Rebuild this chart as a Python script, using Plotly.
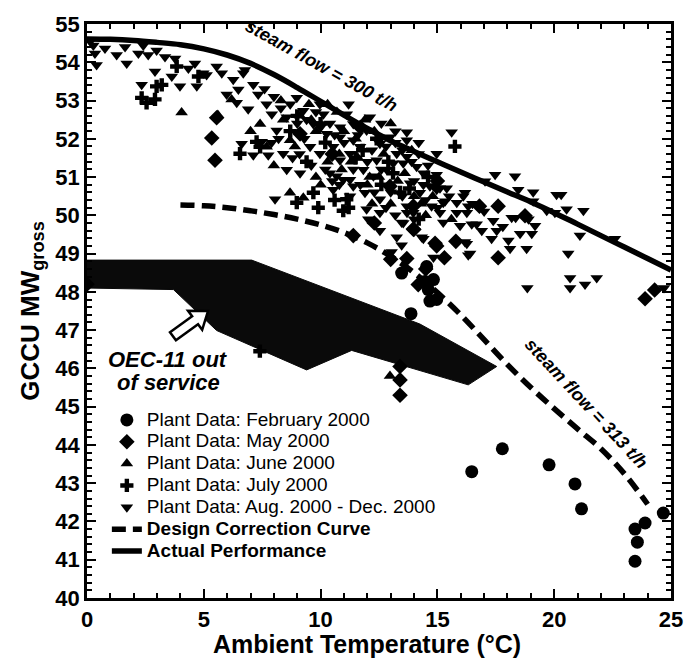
import numpy as np
import plotly.graph_objects as go

# ---------------- data ----------------
ACTUAL_X = [0, 1, 2, 3, 4, 5, 6, 7, 8, 9, 10, 11, 12, 13, 14, 15, 16, 17, 18, 19, 20, 21, 22, 23, 24, 25]
ACTUAL_Y = [54.61, 54.6, 54.57, 54.52, 54.46, 54.35, 54.19, 53.97, 53.68, 53.34, 52.98, 52.62, 52.27, 51.95, 51.67, 51.4, 51.13, 50.87, 50.61, 50.35, 50.07, 49.77, 49.47, 49.17, 48.87, 48.57]

DESIGN_X = [4, 5, 6, 7, 8, 9, 10, 11, 12, 13, 14, 15, 16, 17, 18, 19, 20, 21, 22, 23, 24]
DESIGN_Y = [50.27, 50.25, 50.2, 50.12, 50.02, 49.9, 49.75, 49.55, 49.28, 48.93, 48.5, 47.98, 47.4, 46.75, 46.1, 45.5, 44.95, 44.42, 43.9, 43.25, 42.45]

OEC_X = [0, 7.05, 14.25, 17.54, 16.32, 11.33, 9.4, 5.55, 3.7, 0, 0]
OEC_Y = [48.83, 48.83, 47.16, 46.05, 45.57, 46.47, 45.96, 46.99, 48.06, 48.1, 48.83]

FEB_X = [16.47, 17.78, 19.78, 20.89, 21.17, 23.46, 23.56, 23.46, 23.89, 24.67, 13.87, 14.47, 14.83, 14.61, 14.68, 14.97, 13.47, 14.54]
FEB_Y = [43.3, 43.9, 43.48, 42.98, 42.33, 41.8, 41.46, 40.96, 41.96, 42.22, 47.43, 48.27, 48.32, 48.06, 47.76, 47.8, 48.49, 48.66]

MAY_X = [0.0, 5.34, 5.48, 5.55, 9.12, 12.97, 13.97, 13.97, 13.69, 13.99, 14.97, 15.3, 15.79, 14.9, 17.6, 17.6, 16.8, 18.75, 13.0, 14.18, 13.4, 13.4, 13.4, 23.89, 24.3, 11.4, 12.3, 15.0, 10.5, 11.7, 14.5]
MAY_Y = [48.2, 52.02, 51.44, 52.55, 52.13, 50.76, 49.64, 50.24, 48.87, 49.63, 49.2, 48.89, 49.32, 49.27, 48.89, 50.24, 50.24, 49.99, 48.85, 48.19, 46.05, 45.7, 45.3, 47.82, 48.05, 49.47, 49.8, 50.9, 51.6, 52.3, 48.6]

JUN_X = [4.05, 6.19, 5.6, 8.69, 9.26, 12.97, 7.41, 7.69, 8.69, 9.12, 9.8, 10.3, 10.9, 11.6, 12.1, 12.7, 13.3, 14.0, 13.0, 11.5, 10.0, 9.5, 8.3, 7.0, 12.3, 14.5, 15.6, 13.9, 8.0, 10.7, 12.0,
         8.4, 9.6, 10.3, 11.0, 11.9, 12.5, 13.6, 14.3, 13.0, 10.8, 9.8, 8.9, 11.3, 12.2, 14.8]
JUN_Y = [52.69, 53.03, 52.62, 50.59, 50.46, 45.8, 52.39, 51.79, 51.96, 52.6, 52.2, 51.4, 51.2, 51.5, 51.0, 51.6, 50.9, 50.5, 50.3, 52.0, 50.8, 52.9, 53.0, 52.2, 52.2, 50.0, 49.9, 51.7, 51.3, 52.7, 50.8,
         52.5, 52.5, 52.9, 52.2, 52.5, 51.0, 51.1, 50.3, 52.4, 51.6, 51.0, 51.8, 51.4, 50.3, 50.5]

JUL_X = [2.34, 2.55, 2.91, 2.98, 3.2, 3.84, 4.77, 6.55, 7.26, 7.41, 8.98, 9.69, 11.12, 10.97, 15.75, 9.4, 10.2, 11.8, 12.6, 13.4, 14.2, 8.7, 10.6, 12.9, 14.6, 11.2, 9.9, 7.4,
         10.0, 11.5, 12.4, 13.1, 9.0, 13.8]
JUL_Y = [53.07, 52.94, 53.03, 53.37, 53.41, 53.89, 53.63, 51.61, 51.92, 51.79, 50.33, 50.59, 50.42, 50.12, 51.8, 51.4, 51.9, 51.7, 50.8, 50.6, 49.9, 52.2, 50.4, 51.4, 51.0, 50.2, 50.2, 46.45,
         52.4, 51.5, 52.0, 51.1, 52.6, 50.7]

AUG_X = [0.15, 0.27, 0.34, 0.41, 0.77, 1.27, 1.63, 1.7, 2.2, 2.41, 2.62, 2.98, 2.34, 2.91, 3.34, 3.77, 3.63, 3.98,
         4.34, 4.62, 4.7, 4.98, 5.12, 5.55, 5.77, 5.98, 6.26, 6.41, 6.76, 6.69, 6.48, 7.12, 7.33, 6.9, 7.69, 6.62,
         7.12, 7.76, 7.48, 8.05,
         7.91, 8.12, 8.55, 8.98, 9.26, 9.69, 10.12, 9.97, 10.26, 9.55, 10.54, 10.83, 10.4, 10.97, 10.54, 11.4, 10.83,
         11.12, 11.4, 8.4, 8.55, 9.12, 9.97,
         12.11, 11.97, 11.4, 10.83, 11.26, 11.69, 12.54, 12.97, 12.4, 11.83, 12.83, 12.26, 11.26, 10.69, 11.9, 11.26,
         12.54, 11.97, 12.54, 12.04, 12.54,
         13.69, 13.69, 13.26, 13.11, 13.69, 14.11, 14.97, 14.97, 14.68, 14.97, 15.33, 15.83, 16.11, 16.26, 13.83,
         14.25, 13.69, 13.97, 13.47, 14.4, 13.26, 13.47, 13.04, 15.61, 13.54, 14.4, 14.83, 15.11, 15.4, 15.25, 14.75,
         13.7, 13.54, 14.33, 15.11, 15.25, 15.97, 14.83, 16.26, 16.4, 16.18, 16.18, 16.32, 15.83, 16.47, 16.68,
         17.39, 17.54, 18.18, 18.35, 19.18, 19.04, 18.54, 18.04, 18.11, 18.82, 17.32, 16.32,
         17.47, 18.32, 17.04, 18.46, 19.1, 19.1, 20.1, 20.3, 20.53, 21.25, 19.68, 20.03, 20.6, 22.6, 21.1, 20.68,
         20.68, 21.32, 21.82, 18.85, 24.7,
         7.6, 8.0, 8.3, 8.7, 9.0, 9.4, 9.8, 10.4, 10.6, 11.0, 11.6, 12.2, 12.8, 13.2, 13.5, 12.0, 11.4, 10.8, 10.2,
         9.6, 9.1, 8.8, 12.6, 13.0, 13.5, 14.0, 14.4, 14.6, 14.2, 13.9, 12.3, 11.7, 12.8, 13.2, 14.0, 14.5, 15.5,
         15.0, 16.5, 17.0, 16.9, 17.8, 18.9, 8.2, 7.9, 9.3, 10.0, 11.2, 12.6, 13.2, 14.2, 10.5]
AUG_Y = [54.55, 54.44, 54.23, 53.93, 54.36, 54.19, 54.4, 53.97, 54.23, 54.44, 54.19, 54.31, 53.41, 53.76, 54.14, 54.1, 53.63, 53.37,
         53.84, 53.97, 53.37, 53.71, 53.67, 53.89, 53.71, 53.16, 53.54, 52.94, 53.8, 53.71, 53.29, 53.41, 53.16, 52.77, 52.9, 51.87,
         51.57, 51.57, 51.92, 50.42,
         52.64, 52.22, 52.56, 53.07, 52.73, 52.39, 52.64, 52.9, 52.13, 51.79, 51.79, 51.44, 51.1, 50.93, 50.67, 50.76, 52.3,
         52.64, 51.96, 51.61, 51.19, 51.1, 51.61,
         52.56, 52.22, 52.39, 52.04, 51.61, 51.79, 51.87, 52.04, 51.44, 51.19, 51.19, 51.02, 50.93, 51.02, 50.59, 50.5,
         50.42, 50.16, 50.07, 49.9, 49.6,
         52.17, 51.96, 51.61, 51.36, 51.53, 51.27, 51.61, 51.06, 50.76, 50.67, 50.37, 50.33, 50.5, 50.07, 50.84,
         50.59, 50.24, 50.07, 49.81, 49.39, 49.43, 49.22, 49.04, 52.17, 51.36, 51.1, 50.76, 50.71, 50.71, 50.33, 50.24,
         50.07, 49.8, 49.43, 50.07, 49.81, 49.73, 48.9, 49.26, 49.0, 49.3, 50.59, 50.24, 50.07, 49.77, 49.77,
         49.86, 49.6, 49.94, 49.94, 49.73, 49.52, 49.52, 49.34, 49.13, 49.13, 49.39, 48.96,
         51.06, 51.02, 50.89, 50.67, 50.6, 50.37, 50.54, 50.54, 50.16, 50.12, 50.12, 50.07, 49.0, 49.39, 49.47, 48.36,
         48.1, 48.19, 48.36, 48.1, 48.1,
         53.3, 53.1, 52.8, 52.9, 52.4, 52.5, 52.7, 52.4, 52.1, 51.9, 52.1, 51.7, 51.8, 51.9, 51.7, 51.4, 51.2, 50.8, 51.2,
         51.3, 51.6, 51.5, 51.2, 50.6, 50.5, 50.9, 50.8, 51.3, 51.6, 51.4, 50.6, 50.8, 50.2, 50.0, 49.9, 50.4, 50.5,
         50.2, 50.3, 50.1, 49.6, 49.7, 49.9, 52.0, 51.9, 52.0, 52.3, 52.9, 52.4, 52.2, 51.9, 50.9]

LEGEND_NAMES = ["Plant Data: February 2000", "Plant Data: May 2000", "Plant Data: June 2000",
                "Plant Data: July 2000", "Plant Data: Aug. 2000 - Dec. 2000",
                "Design Correction Curve", "Actual Performance"]
LEGEND_BOLD = [False, False, False, False, False, True, True]

X_RANGE = [0, 25]
Y_RANGE = [40, 55]

# annotation arrow (data coordinates of tip and tail)
ARROW_TIP = (5.18, 47.5)
ARROW_TAIL = (3.68, 46.84)

# ---------------- figure ----------------
W, H = 695, 664
ML, MR, MT, MB = 87, 24, 15, 66
PW, PH = W - ML - MR, H - MT - MB
sx = PW / (X_RANGE[1] - X_RANGE[0])
sy = PH / (Y_RANGE[1] - Y_RANGE[0])

fnt = "Liberation Sans, Arial, sans-serif"


def leg(i):
    t = LEGEND_NAMES[i]
    if LEGEND_BOLD[i]:
        t = "<b>" + t + "</b>"
    return '<span style="font-size:19px">' + t + "</span>"


fig = go.Figure()

fig.add_trace(go.Scatter(x=OEC_X, y=OEC_Y, mode="lines", fill="toself", fillcolor="#0a0a0a",
                         line=dict(color="#0a0a0a", width=1), showlegend=False, hoverinfo="skip"))

mk = dict(color="black")
fig.add_trace(go.Scatter(x=FEB_X, y=FEB_Y, mode="markers", name=leg(0),
                         marker=dict(symbol="circle", size=13, **mk)))
fig.add_trace(go.Scatter(x=MAY_X, y=MAY_Y, mode="markers", name=leg(1),
                         marker=dict(symbol="diamond", size=12, **mk)))
fig.add_trace(go.Scatter(x=JUN_X, y=JUN_Y, mode="markers", name=leg(2),
                         marker=dict(symbol="triangle-up", size=11, **mk)))
fig.add_trace(go.Scatter(x=JUL_X, y=JUL_Y, mode="markers", name=leg(3),
                         marker=dict(symbol="cross", size=11, **mk)))
fig.add_trace(go.Scatter(x=AUG_X, y=AUG_Y, mode="markers", name=leg(4),
                         marker=dict(symbol="triangle-down", size=11, **mk)))
fig.add_trace(go.Scatter(x=DESIGN_X, y=DESIGN_Y, mode="lines", name=leg(5),
                         line=dict(color="black", width=5.5, dash="14px,7px", shape="spline")))
fig.add_trace(go.Scatter(x=ACTUAL_X, y=ACTUAL_Y, mode="lines", name=leg(6),
                         line=dict(color="black", width=5.5, shape="spline")))

# hollow arrow
tip = np.array([ARROW_TIP[0] * sx, ARROW_TIP[1] * sy])
tail = np.array([ARROW_TAIL[0] * sx, ARROW_TAIL[1] * sy])
d = (tip - tail) / np.linalg.norm(tip - tail)
n = np.array([-d[1], d[0]])
hl, hw, sw = 16, 12, 5
pts = [tip, tip - d * hl + n * hw, tip - d * hl + n * sw, tail + n * sw,
       tail - n * sw, tip - d * hl - n * sw, tip - d * hl - n * hw]
path = "M " + " L ".join(f"{p[0] / sx},{p[1] / sy}" for p in pts) + " Z"
fig.add_shape(type="path", path=path, xref="x", yref="y", line=dict(color="black", width=2.5),
              fillcolor="white", layer="above")

fig.add_annotation(x=10.05, y=53.9, xref="x", yref="y", text="<b><i>steam flow = 300 t/h</i></b>",
                   showarrow=False, textangle=29, font=dict(family=fnt, size=18, color="black"))
fig.add_annotation(x=21.4, y=45.08, xref="x", yref="y", text="<b><i>steam flow = 313 t/h</i></b>",
                   showarrow=False, textangle=47, font=dict(family=fnt, size=18, color="black"))
fig.add_annotation(x=3.47, y=46.23, xref="x", yref="y", text="<b><i>OEC-11 out</i></b>",
                   showarrow=False, font=dict(family=fnt, size=22, color="black"))
fig.add_annotation(x=3.5, y=45.64, xref="x", yref="y", text="<b><i>of service</i></b>",
                   showarrow=False, font=dict(family=fnt, size=22, color="black"))

# x-axis title (placed as annotation to match the reference offset)
fig.add_annotation(x=0.4795, y=-0.081, xref="paper", yref="paper", text="<b>Ambient Temperature (°C)</b>",
                   showarrow=False, xanchor="center", yanchor="middle",
                   font=dict(family=fnt, size=25, color="black"))

axis_common = dict(showline=True, linecolor="black", linewidth=2.5, mirror="ticks", ticks="inside",
                   tickcolor="black", tickwidth=2, showgrid=False, zeroline=False,
                   tickfont=dict(family=fnt, size=22, color="black", weight="bold"))

fig.update_xaxes(range=X_RANGE, dtick=5, ticklen=9,
                 minor=dict(dtick=1, ticks="inside", ticklen=5, tickcolor="black", tickwidth=2),
                 **axis_common)
fig.update_yaxes(range=Y_RANGE, dtick=1, ticklen=9,
                 minor=dict(dtick=0.2, ticks="inside", ticklen=5, tickcolor="black", tickwidth=1.5),
                 title=dict(text="GCCU MW<sub>gross</sub>",
                            font=dict(family=fnt, size=26, color="black", weight="bold"), standoff=9),
                 **axis_common)

fig.update_layout(width=W, height=H, margin=dict(l=ML, r=MR, t=MT, b=MB),
                  paper_bgcolor="white", plot_bgcolor="white",
                  legend=dict(x=0.034, y=0.338, xanchor="left", yanchor="top", bgcolor="rgba(0,0,0,0)",
                              font=dict(family=fnt, size=14.5, color="black"), tracegroupgap=0),
                  showlegend=True)

fig.write_html("out.html")
